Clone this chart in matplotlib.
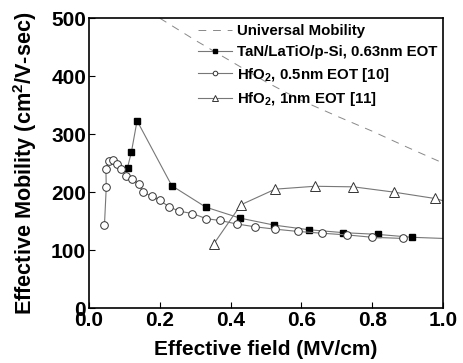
import matplotlib
matplotlib.use("Agg")
import matplotlib.pyplot as plt

plt.rcParams['font.family'] = ['Liberation Sans', 'DejaVu Sans']
plt.rcParams['font.weight'] = 'bold'
plt.rcParams['mathtext.fontset'] = 'custom'
plt.rcParams['mathtext.rm'] = 'Liberation Sans:bold'
plt.rcParams['mathtext.bf'] = 'Liberation Sans:bold'
plt.rcParams['mathtext.default'] = 'bf'

# Universal mobility (dashed)
univ_x = [0.2, 0.3, 0.4, 0.5, 0.6, 0.7, 0.8, 0.9, 1.0]
univ_y = [500, 462, 426, 390, 358, 331, 305, 277, 250]

# TaN/LaTiO/p-Si, 0.63nm EOT (filled squares); last point is the line end at axis edge
tan_x = [0.109, 0.12, 0.136, 0.234, 0.33, 0.427, 0.523, 0.621, 0.718, 0.815, 0.912, 1.0]
tan_y = [242, 269, 323, 211, 174, 155, 143, 135, 130, 127, 122, 120]

# HfO2, 0.5nm EOT [10] (open circles)
hf05_x = [0.044, 0.049, 0.048, 0.057, 0.069, 0.080, 0.091, 0.106, 0.121, 0.142, 0.152,
          0.177, 0.200, 0.225, 0.255, 0.292, 0.332, 0.370, 0.417, 0.470, 0.526, 0.591,
          0.658, 0.730, 0.800, 0.887]
hf05_y = [144, 208, 240, 254, 256, 248, 240, 228, 222, 214, 200,
          193, 186, 175, 167, 163, 154, 151, 145, 140, 136, 132,
          129, 126, 122, 120]

# HfO2, 1nm EOT [11] (open triangles); last point is the line end at axis edge
hf1_x = [0.352, 0.429, 0.526, 0.638, 0.747, 0.860, 0.976, 1.0]
hf1_y = [110, 178, 205, 210, 209, 200, 189, 185]

fig = plt.figure(figsize=(4.63, 3.63), dpi=100)
ax = fig.add_axes([0.192, 0.1515, 0.765, 0.7985])

gray = '#777777'
ax.plot(univ_x, univ_y, color='#888888', lw=0.7, dashes=(8, 7), label='Universal Mobility')
ax.plot(tan_x, tan_y, color=gray, lw=0.8, marker='s', ms=5, mfc='black', mec='black',
        markevery=list(range(len(tan_x) - 1)), label='TaN/LaTiO/p-Si, 0.63nm EOT')
ax.plot(hf05_x, hf05_y, color=gray, lw=0.8, marker='o', ms=5.5, mfc='white', mec='#333333',
        mew=0.7, label=r'HfO$_2$, 0.5nm EOT [10]')
ax.plot(hf1_x, hf1_y, color=gray, lw=0.8, marker='^', ms=7, mfc='white', mec='#333333',
        mew=0.7, markevery=list(range(len(hf1_x) - 1)), label=r'HfO$_2$, 1nm EOT [11]')

ax.set_xlim(0, 1.0)
ax.set_ylim(0, 500)
ax.set_xticks([0.0, 0.2, 0.4, 0.6, 0.8, 1.0])
ax.set_xticklabels(['0.0', '0.2', '0.4', '0.6', '0.8', '1.0'])
ax.set_yticks([0, 100, 200, 300, 400, 500])
ax.tick_params(direction='in', length=4, width=0.8, labelsize=15, pad=2,
               top=False, right=False)
for lab in ax.get_xticklabels() + ax.get_yticklabels():
    lab.set_fontweight('bold')
for s in ax.spines.values():
    s.set_linewidth(1.2)

ax.set_xlabel('Effective field (MV/cm)', fontsize=15, fontweight='bold', labelpad=7)
ax.set_ylabel(r'Effective Mobility (cm$^2$/V-sec)', fontsize=15.6, fontweight='bold', labelpad=9)

leg = ax.legend(loc='upper right', frameon=False, handlelength=2.3,
                handletextpad=0.3, labelspacing=0.45, borderaxespad=0.0, markerscale=0.6,
                prop={'weight': 'bold', 'size': 10.8})

fig.savefig('out.png', dpi=100)
